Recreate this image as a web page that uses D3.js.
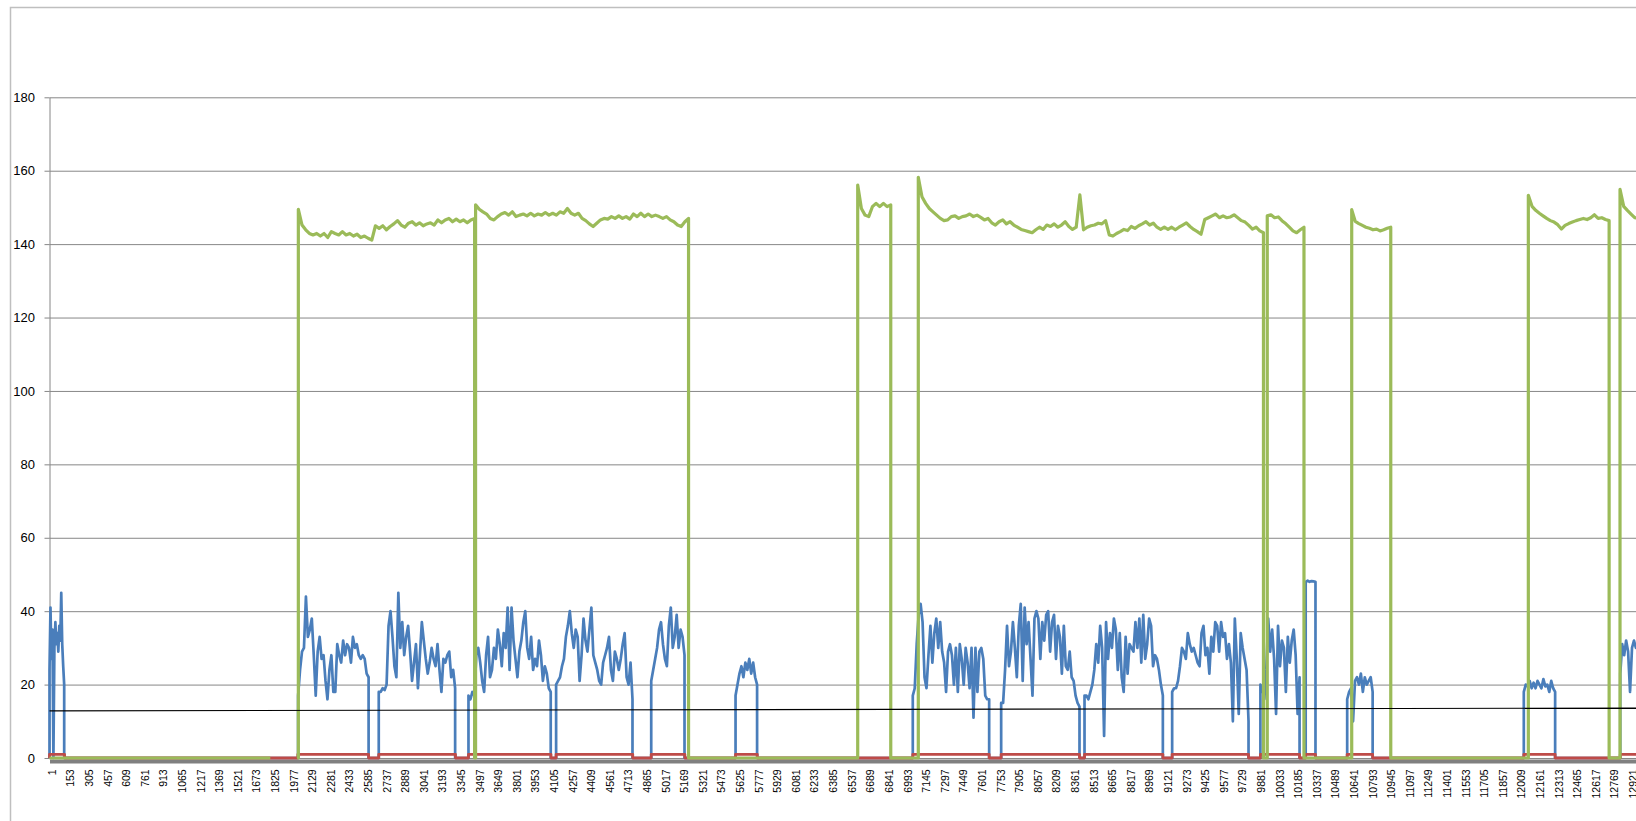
<!DOCTYPE html>
<html>
<head>
<meta charset="utf-8">
<script src="https://cdn.jsdelivr.net/npm/d3@7"></script>
<style>
  body { margin: 0; background: #fff; }
  svg { display: block; }
</style>
</head>
<body>
<svg id="chart" width="1636" height="821"></svg>
<script>
const categoryCount = 13100;
const labelStep = 152;
const yTicks = [0, 20, 40, 60, 80, 100, 120, 140, 160, 180];

// runs: [first category, step between samples, values]; outside a run the series sits at 0
const greenRuns = [
  [2034, 30, [149.5, 145.2, 143.9, 142.9, 142.5, 142.9, 142.2, 142.9, 141.8, 143.4, 142.9, 142.5, 143.4, 142.5, 142.9, 142.2, 142.7, 141.8, 142.2, 141.6, 141.1, 145.0, 144.3, 145.0, 143.9, 144.8, 145.5, 146.4, 145.2, 144.6, 145.7, 146.1, 145.2, 145.8, 145.0, 145.5, 145.8, 145.2, 146.6, 145.8, 146.6, 147.0, 146.1, 146.8, 146.1, 146.6, 145.8, 146.6, 147.0]],
  [3482, 30, [150.7, 149.5, 148.8, 148.2, 147.0, 146.6, 147.5, 148.2, 148.6, 147.9, 148.8, 147.5, 147.9, 148.2, 147.7, 148.4, 147.7, 148.2, 147.9, 148.6, 147.9, 148.4, 147.9, 148.8, 148.4, 149.7, 148.4, 147.9, 148.4, 147.0, 146.4, 145.5, 144.8, 145.7, 146.6, 147.0, 146.8, 147.5, 147.0, 147.7, 147.0, 147.5, 146.8, 148.2, 147.5, 148.4, 147.5, 148.2, 147.5, 147.9, 147.5, 147.0, 147.5, 146.6, 146.1, 145.2, 144.8, 146.1, 147.0]],
  [6604, 30, [156.1, 149.7, 147.9, 147.5, 150.2, 151.1, 150.2, 151.1, 150.2, 150.7]],
  [7099, 30, [158.2, 152.9, 151.1, 149.7, 148.8, 147.9, 147.0, 146.4, 146.6, 147.5,
              147.7, 147.0, 147.5, 147.7, 148.2, 147.5, 147.9, 147.3, 146.6, 147.0,
              145.8, 145.2, 146.1, 146.6, 145.5, 146.1, 145.2, 144.6, 144.0, 143.7,
              143.4, 143.1, 143.9, 144.6, 144.0, 145.2, 144.8, 145.5, 144.6, 145.2,
              146.1, 144.8, 144.0, 144.6, 153.4, 143.9, 144.6, 145.0, 145.2, 145.7,
              145.5, 146.4, 142.5, 142.2, 142.9, 143.4, 144.0, 143.7, 144.8, 144.3,
              145.0, 145.5, 146.1, 145.2, 145.7, 144.6, 144.0, 144.6, 144.0, 144.6,
              143.9, 144.6, 145.2, 145.8, 144.8, 144.0, 143.4, 142.7, 146.7, 147.2,
              147.7, 148.2, 147.2, 147.7, 147.2, 147.4, 148.0, 147.2, 146.4, 146.0,
              145.1, 144.1, 144.6, 143.6, 143.1]],
  [9950, 30, [147.7, 148.0, 147.2, 147.4, 146.4, 145.6, 144.6, 143.6, 143.1, 143.9, 144.6]],
  [10640, 29, [149.4, 146.2, 145.6, 145.1, 144.6, 144.3, 143.9, 144.1, 143.6, 143.9, 144.3, 144.6]],
  [12083, 30, [153.3, 150.3, 149.2, 148.4, 147.7, 147.0, 146.4, 146.0, 145.3, 144.1, 145.1, 145.6, 146.0, 146.4, 146.7, 147.0, 146.7, 147.2, 148.0, 147.0, 147.2, 146.7, 146.4]],
  [12832, 30, [154.9, 150.3, 149.2, 148.2, 147.2, 147.0, 147.0]]
];
// green has no values between these two categories
const greenGap = [1805, 2024];

const blueRuns = [
  [1, 8, [24, 41, 27, 35, 0, 30, 37, 31, 34, 29, 36, 32, 45, 31, 25, 20]],
  [2032, 16, [17, 24, 29, 30, 44, 33, 35, 38, 28, 17, 29, 33, 27, 28, 21, 16, 24, 28, 18, 18, 31, 28, 26, 32, 28, 31, 30, 26, 33, 30, 31, 28, 27, 28, 27, 23, 22]],
  [2691, 16, [18, 18, 19, 18.5, 20, 36, 40, 33, 25, 22, 45, 30, 37, 28, 33, 36, 29, 21, 26, 31, 19, 28, 37, 32, 27, 23, 26, 30, 27, 25, 31, 24, 18, 27, 26, 28, 29, 22, 24, 19]],
  [3424, 16, [17, 16, 18, 17, 28, 30, 26, 21, 18, 28, 33, 22, 24, 30, 27, 35, 31, 25, 34, 30, 41, 24, 41, 32, 27, 22, 29, 32, 37, 40, 30, 27, 33, 24, 27, 25, 32, 28, 21, 25, 23, 19, 18]],
  [4140, 16, [20, 21, 22, 25, 27, 33, 36, 40, 34, 30, 35, 33, 21, 28, 38, 32, 29, 35, 41, 28, 26, 24, 21, 20, 26, 28, 30, 33, 24, 21, 29, 27, 24, 27, 31, 34, 22, 20, 26, 16]],
  [4917, 16, [21, 24, 27, 30, 35, 37, 31, 27, 25, 36, 41, 30, 33, 39, 30, 35, 33, 28]],
  [5606, 16, [17, 20, 23, 25, 22, 26, 24, 27, 23, 26, 22, 20]],
  [7054, 16, [17, 19, 31, 39, 42, 37, 22, 19, 28, 36, 26, 34, 38, 30, 37, 29, 26, 18, 29, 31, 28, 20, 30, 18, 31, 27, 20, 30, 26, 19, 30, 11, 30, 18, 29, 30, 27, 17, 16, 16]],
  [7776, 16, [15, 15, 24, 36, 25, 29, 37, 30, 22, 36, 42, 21, 41, 31, 37, 27, 17, 38, 40, 38, 27, 37, 32, 39, 40, 29, 37, 39, 27, 36, 33, 23, 36, 25, 24, 29, 22, 21, 17, 15, 14]],
  [8457, 16, [17, 17, 16, 18, 20, 24, 31, 26, 36, 30, 6, 37, 27, 34, 30, 38, 35, 24, 34, 22, 18, 33, 23, 31, 30, 29, 37, 30, 38, 26, 39, 27, 31, 38, 36, 25, 28, 27, 24, 20, 17]],
  [9173, 16, [18, 19, 19, 21, 25, 30, 29, 27, 34, 31, 29, 30, 28, 26, 25, 34, 36, 28, 30, 23, 33, 29, 37, 36, 29, 37, 33, 34, 27, 31, 26, 10, 38, 27, 12, 34, 30, 27, 24, 10]],
  [9894, 16, [20, 19, 16, 24, 38, 29, 35, 27, 12, 36, 25, 32, 30, 18, 33, 26, 32, 35, 28, 12, 22]],
  [10264, 16, [48, 48.3, 48, 48.2, 48.1, 48]],
  [10603, 16, [16, 18, 19, 10, 21, 22, 20, 23, 18, 22, 20, 21, 22, 18]],
  [12046, 16, [18, 20, 19.5, 21, 19, 20.5, 19, 21, 20, 19, 21.5, 19.5, 20, 18, 21, 19, 18]],
  [12834, 16, [23, 31, 28, 32, 29, 18, 30, 32, 30, 31, 29]]
];

// red is 1 inside these category ranges, 0 elsewhere
const redOn = [[1, 124], [2030, 2608], [2691, 3318], [3424, 4098], [4140, 4766], [4917, 5192],
  [5606, 5784], [7054, 7678], [7776, 8416], [8457, 9097], [9173, 9797], [9894, 10214],
  [10264, 10344], [10603, 10811], [12046, 12302], [12834, 13100]];

// thin black trend line: [category, value]
const trendLine = [[1, 12.85], [13000, 13.6]];

const svg = d3.select("#chart");
const width = +svg.attr("width");
const height = +svg.attr("height");
const font = "'Liberation Sans', Arial, sans-serif";

const x = d3.scaleLinear()
  .domain([1, categoryCount])
  .range([49.5, 49.5 + (categoryCount - 1) * 0.1224]);
const y = d3.scaleLinear().domain([0, 180]).range([758, 97.3]);

const runsToPoints = (runs) => {
  const pts = [];
  runs.forEach(([start, step, values]) => {
    pts.push([start, 0]);
    values.forEach((v, i) => pts.push([start + i * step, v]));
    pts.push([start + step * (values.length - 1), 0]);
  });
  return pts;
};

const greenPts = [[1, 0], [greenGap[0], 0], null, [greenGap[1], 0], ...runsToPoints(greenRuns)];
const bluePts = runsToPoints(blueRuns);
const redPts = [];
redOn.forEach(([a, b]) => redPts.push([a, 0], [a, 1], [b, 1], [b, 0]));

// only labels whose centre falls inside the picture
const xLabels = d3.range(1, categoryCount + 1, labelStep).filter((c) => x(c) < width);

// outer chart frame
svg.append("rect")
  .attr("x", 10.5).attr("y", 7.5)
  .attr("width", width).attr("height", height)
  .attr("fill", "none").attr("stroke", "#bfbfbf").attr("stroke-width", 1.5);

// gridlines
svg.append("g")
  .attr("transform", `translate(${x(1)},0)`)
  .call(d3.axisLeft(y).tickValues(yTicks).tickSize(-(width - x(1))).tickFormat(""))
  .call((g) => g.select(".domain").remove())
  .call((g) => g.selectAll("line").attr("stroke", "#878787"));

// x axis (thick grey base) + rotated labels
svg.append("g")
  .attr("transform", `translate(0,${y(0)})`)
  .call(d3.axisBottom(x)
    .tickValues(xLabels)
    .tickSize(0).tickSizeOuter(0)
    .tickFormat(d3.format("d")))
  .attr("font-family", font)
  .attr("font-size", 10.5)
  .call((g) => g.select(".domain")
    .attr("stroke", "#808080").attr("stroke-width", 4)
    .attr("transform", "translate(0,3)"))
  .call((g) => g.selectAll("text")
    .attr("fill", "#000")
    .attr("transform", "rotate(-90)")
    .attr("text-anchor", "end")
    .attr("x", -11.3)
    .attr("y", 2)
    .attr("dy", "0.35em"));

// y axis
svg.append("g")
  .attr("transform", `translate(${x(1)},0)`)
  .call(d3.axisLeft(y).tickValues(yTicks).tickSize(5).tickSizeOuter(0).tickPadding(9.5))
  .attr("font-family", font)
  .attr("font-size", 13)
  .call((g) => g.select(".domain").attr("stroke", "#868686"))
  .call((g) => g.selectAll(".tick line").attr("stroke", "#868686"))
  .call((g) => g.selectAll("text").attr("fill", "#000"));

const line = d3.line()
  .defined((d) => d !== null)
  .x((d) => x(d[0]))
  .y((d) => y(d[1]));

const series = [
  { pts: bluePts, color: "#4a7ebb", w: 2.7 },
  { pts: redPts, color: "#be4b48", w: 2.8 },
  { pts: greenPts, color: "#9bbb59", w: 3.2 },
  { pts: trendLine, color: "#000", w: 1.1 }
];

svg.append("g")
  .selectAll("path")
  .data(series)
  .join("path")
  .attr("fill", "none")
  .attr("stroke", (d) => d.color)
  .attr("stroke-width", (d) => d.w)
  .attr("stroke-linejoin", "round")
  .attr("d", (d) => line(d.pts));
</script>
</body>
</html>
